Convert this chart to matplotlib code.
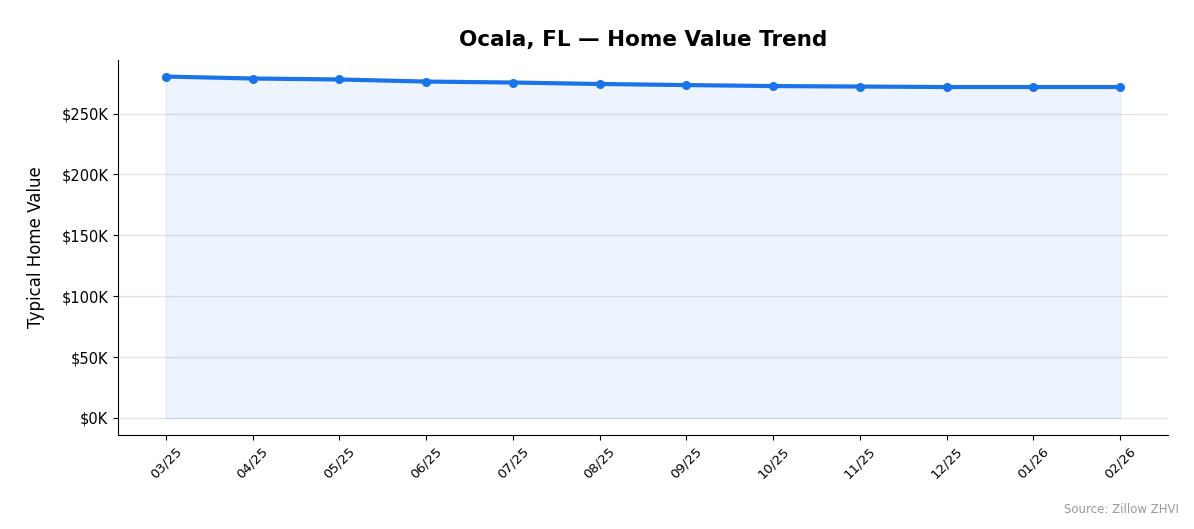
import matplotlib.pyplot as plt
from matplotlib.ticker import FuncFormatter

months = ["03/25", "04/25", "05/25", "06/25", "07/25", "08/25",
          "09/25", "10/25", "11/25", "12/25", "01/26", "02/26"]
values = [280400, 278800, 278000, 276300, 275500, 274300,
          273400, 272600, 272200, 271800, 271800, 271800]

fig = plt.figure(figsize=(11.94, 5.29), dpi=100)
ax = fig.add_axes([118 / 1194, 94 / 529, 1050 / 1194, 375 / 529])

x = range(len(months))
ax.fill_between(x, values, 0, color="#1a73e8", alpha=0.08)
ax.plot(x, values, color="#1a73e8", linewidth=3, marker="o", markersize=5.5)

ax.set_xlim(-0.55, 11.55)
ax.set_ylim(-14000, 294000)
ax.set_xticks(list(x))
ax.set_xticklabels(months, rotation=45, fontsize=9.5)
ax.set_yticks([0, 50000, 100000, 150000, 200000, 250000])
ax.yaxis.set_major_formatter(FuncFormatter(lambda v, p: f"${v / 1000:.0f}K"))
ax.tick_params(axis="y", labelsize=10.5)
ax.grid(axis="y", color="#e2e4ea", linewidth=1)
ax.set_axisbelow(True)
for side in ["top", "right"]:
    ax.spines[side].set_visible(False)

ax.set_ylabel("Typical Home Value", fontsize=12, labelpad=12)
ax.set_title("Ocala, FL — Home Value Trend", fontsize=15.5, fontweight="bold", pad=10)
fig.text(0.987, 0.03, "Source: Zillow ZHVI", ha="right", fontsize=8.5, color="#999999")

fig.savefig("out.png", dpi=100)
